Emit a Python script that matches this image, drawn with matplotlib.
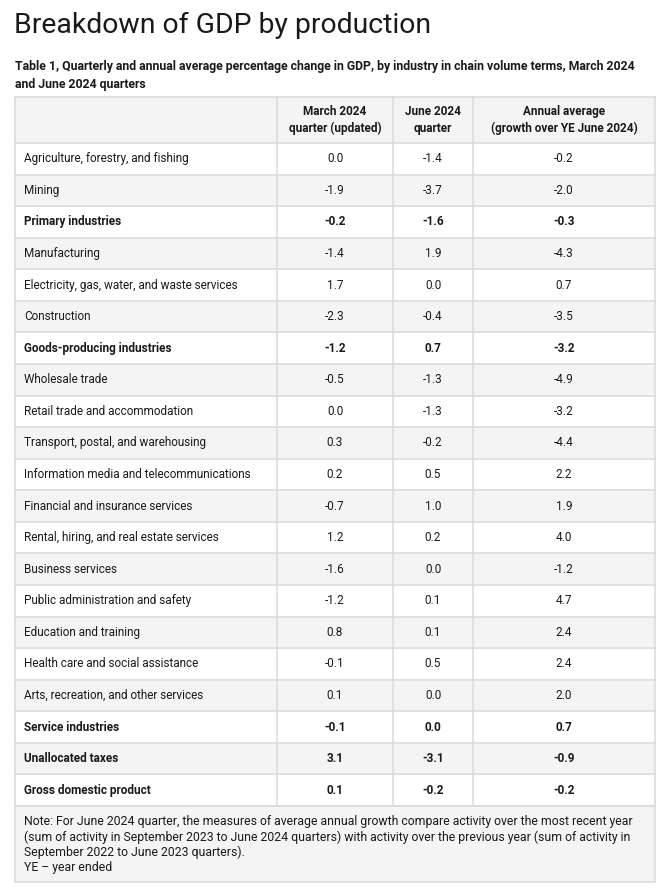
import matplotlib
matplotlib.use("Agg")
import matplotlib.pyplot as plt
from matplotlib.patches import Rectangle

title = "Breakdown of GDP by production"
subtitle = ("Table 1, Quarterly and annual average percentage change in GDP, by industry in chain volume terms, March 2024\n"
            "and June 2024 quarters")
col_headers = ["March 2024\nquarter (updated)", "June 2024\nquarter", "Annual average\n(growth over YE June 2024)"]

industries = [
    "Agriculture, forestry, and fishing", "Mining", "Primary industries", "Manufacturing",
    "Electricity, gas, water, and waste services", "Construction", "Goods-producing industries",
    "Wholesale trade", "Retail trade and accommodation", "Transport, postal, and warehousing",
    "Information media and telecommunications", "Financial and insurance services",
    "Rental, hiring, and real estate services", "Business services",
    "Public administration and safety", "Education and training",
    "Health care and social assistance", "Arts, recreation, and other services",
    "Service industries", "Unallocated taxes", "Gross domestic product",
]
march_2024 = [0.0, -1.9, -0.2, -1.4, 1.7, -2.3, -1.2, -0.5, 0.0, 0.3, 0.2, -0.7, 1.2, -1.6, -1.2, 0.8, -0.1, 0.1, -0.1, 3.1, 0.1]
june_2024 = [-1.4, -3.7, -1.6, 1.9, 0.0, -0.4, 0.7, -1.3, -1.3, -0.2, 0.5, 1.0, 0.2, 0.0, 0.1, 0.1, 0.5, 0.0, 0.0, -3.1, -0.2]
annual_avg = [-0.2, -2.0, -0.3, -4.3, 0.7, -3.5, -3.2, -4.9, -3.2, -4.4, 2.2, 1.9, 4.0, -1.2, 4.7, 2.4, 2.4, 2.0, 0.7, -0.9, -0.2]
bold_rows = ["Primary industries", "Goods-producing industries", "Service industries",
             "Unallocated taxes", "Gross domestic product"]

note = ("Note: For June 2024 quarter, the measures of average annual growth compare activity over the most recent year\n"
        "(sum of activity in September 2023 to June 2024 quarters) with activity over the previous year (sum of activity in\n"
        "September 2022 to June 2023 quarters).\n"
        "YE \u2013 year ended")

FONT = "Roboto"
TXT = "#1a1a1a"
GRAY = "#f4f4f4"
LINE = "#dcdcdc"
FS = 8.5

fig = plt.figure(figsize=(6.6, 8.93), dpi=100)
ax = fig.add_axes([0, 0, 1, 1])
ax.set_xlim(0, 660)
ax.set_ylim(893, 0)
ax.axis("off")

ax.text(14, 25, title, fontsize=20.4, family=FONT, color=TXT, va="center", ha="left")
ax.text(15, 75.5, subtitle, fontsize=8.85, family=FONT, weight="bold", color=TXT, va="center", ha="left",
        linespacing=1.5)

x_edges = [15, 277, 393, 473, 655]
header_top, header_bot = 97, 143
row_h = (806 - 143) / len(industries)

ax.add_patch(Rectangle((x_edges[0], header_top), x_edges[-1] - x_edges[0], header_bot - header_top,
                       facecolor=GRAY, edgecolor="none"))
for j, h in enumerate(col_headers):
    xc = (x_edges[j + 1] + x_edges[j + 2]) / 2
    ax.text(xc, (header_top + header_bot) / 2, h, fontsize=FS, family=FONT, weight="bold", color=TXT,
            ha="center", va="center", linespacing=1.35)

for i, name in enumerate(industries):
    y0 = header_bot + i * row_h
    yc = y0 + row_h / 2
    fc = GRAY if i % 2 == 1 else "white"
    ax.add_patch(Rectangle((x_edges[0], y0), x_edges[-1] - x_edges[0], row_h, facecolor=fc, edgecolor="none"))
    w = "bold" if name in bold_rows else "normal"
    ax.text(24, yc, name, fontsize=FS, family=FONT, weight=w, color=TXT, ha="left", va="center")
    for j, vals in enumerate([march_2024, june_2024, annual_avg]):
        xc = (x_edges[j + 1] + x_edges[j + 2]) / 2
        ax.text(xc, yc, f"{vals[i]:.1f}", fontsize=FS, family=FONT, weight=w, color=TXT,
                ha="center", va="center")

table_bot = header_bot + len(industries) * row_h
for k in range(len(industries) + 1):
    y = header_bot + k * row_h
    ax.plot([x_edges[0], x_edges[-1]], [y, y], color=LINE, lw=1.2)
ax.plot([x_edges[0], x_edges[-1]], [header_top, header_top], color=LINE, lw=1.2)
for x in x_edges:
    ax.plot([x, x], [header_top, table_bot], color=LINE, lw=1.2)

note_bot = 882
ax.add_patch(Rectangle((x_edges[0], table_bot), x_edges[-1] - x_edges[0], note_bot - table_bot,
                       facecolor=GRAY, edgecolor=LINE, lw=1.2))
ax.text(24, table_bot + 9, note, fontsize=8.8, family=FONT, color=TXT, ha="left", va="top",
        linespacing=1.2)

fig.savefig("out.png", dpi=100)
